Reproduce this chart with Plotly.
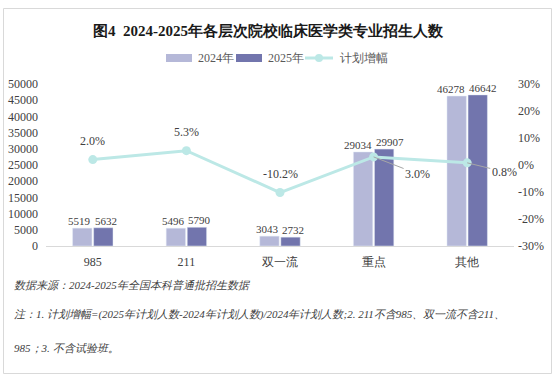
import plotly.graph_objects as go

categories = ["985", "211", "双一流", "重点", "其他"]
plan_2024 = [5519, 5496, 3043, 29034, 46278]
plan_2025 = [5632, 5790, 2732, 29907, 46642]
growth_pct = [2.0, 5.3, -10.2, 3.0, 0.8]
left_ticks = list(range(0, 50001, 5000))
right_ticks = [-30, -20, -10, 0, 10, 20, 30]
right_tick_labels = ["-30%", "-20%", "-10%", "0%", "10%", "20%", "30%"]

W, H = 557, 381
L, R, T, B = 46, 43, 84, 135
PW, PH = W - L - R, H - T - B

def px(x):
    return (x - L) / PW

def py(y):
    return (T + PH - y) / PH

SERIF = "Liberation Serif, Times New Roman, DejaVu Serif, serif"
TXT = "#404040"
C24 = "#b5b8d8"
C25 = "#7275ad"
CLINE = "#bce8e6"

fig = go.Figure()
fig.add_trace(go.Bar(x=categories, y=plan_2024, name="2024年", marker_color=C24))
fig.add_trace(go.Bar(x=categories, y=plan_2025, name="2025年", marker_color=C25))
fig.add_trace(go.Scatter(x=categories, y=growth_pct, name="计划增幅", yaxis="y2",
                         mode="lines+markers",
                         line=dict(color=CLINE, width=3),
                         marker=dict(color=CLINE, size=9), cliponaxis=False))

annotations = []
# bar value labels (category index positions; shifted so neighbours do not collide)
for idx, v in enumerate(plan_2024):
    extra = 5 if v >= 10000 else 2
    annotations.append(dict(x=idx, y=v, xref="x", yref="y", text=str(v), showarrow=False,
                            xanchor="center", yanchor="bottom", xshift=-11 - extra, yshift=-1,
                            font=dict(family=SERIF, size=11, color=TXT)))
for idx, v in enumerate(plan_2025):
    extra = 5 if v >= 10000 else 2
    annotations.append(dict(x=idx, y=v, xref="x", yref="y", text=str(v), showarrow=False,
                            xanchor="center", yanchor="bottom", xshift=11 + extra, yshift=-1,
                            font=dict(family=SERIF, size=11, color=TXT)))

# growth labels
for idx in range(3):
    annotations.append(dict(x=idx, y=growth_pct[idx], xref="x", yref="y2",
                            text=f"{growth_pct[idx]:.1f}%", showarrow=False,
                            xanchor="center", yanchor="middle", yshift=19,
                            font=dict(family=SERIF, size=12, color=TXT)))
for idx, (ax, ay) in zip((3, 4), [(44, 17), (37, 9)]):
    annotations.append(dict(x=idx, y=growth_pct[idx], xref="x", yref="y2",
                            text=f"{growth_pct[idx]:.1f}%", showarrow=True, arrowhead=0,
                            arrowwidth=1, arrowcolor="#a6a6a6", ax=ax, ay=ay,
                            xanchor="center", yanchor="middle",
                            font=dict(family=SERIF, size=12, color=TXT)))

annotations.append(dict(x=px(268), y=py(30), xref="paper", yref="paper",
                        text="<b>图4  2024-2025年各层次院校临床医学类专业招生人数</b>",
                        showarrow=False, xanchor="center", yanchor="middle",
                        font=dict(family=SERIF, size=15, color="#1a1a1a")))

shapes = []
shapes.append(dict(type="rect", xref="paper", yref="paper", x0=px(166), x1=px(192),
                   y0=py(62), y1=py(54), fillcolor=C24, line=dict(width=0)))
shapes.append(dict(type="rect", xref="paper", yref="paper", x0=px(236), x1=px(262),
                   y0=py(62), y1=py(54), fillcolor=C25, line=dict(width=0)))
shapes.append(dict(type="line", xref="paper", yref="paper", x0=px(305), x1=px(333),
                   y0=py(58), y1=py(58), line=dict(color=CLINE, width=3)))
shapes.append(dict(type="circle", xref="paper", yref="paper", x0=px(315), x1=px(323),
                   y0=py(62), y1=py(54), fillcolor=CLINE, line=dict(width=0)))
for xx, t in [(196, "2024年"), (266, "2025年"), (338, "计划增幅")]:
    annotations.append(dict(x=px(xx), y=py(58), xref="paper", yref="paper", text=t,
                            showarrow=False, xanchor="left", yanchor="middle",
                            font=dict(family=SERIF, size=12, color="#595959")))

shapes.append(dict(type="rect", xref="paper", yref="paper", x0=px(3.5), x1=px(551.5),
                   y0=py(373.5), y1=py(8.5), line=dict(color="#d9d9d9", width=1),
                   fillcolor="rgba(0,0,0,0)", layer="below"))

notes = [
    (285, "数据来源：2024-2025年全国本科普通批招生数据"),
    (314, "注：1. 计划增幅=(2025年计划人数-2024年计划人数)/2024年计划人数;2. 211不含985、双一流不含211、"),
    (348, "985；3. 不含试验班。"),
]
for yy, t in notes:
    annotations.append(dict(x=px(12), y=py(yy), xref="paper", yref="paper", text=t,
                            showarrow=False, xanchor="left", yanchor="middle",
                            font=dict(family=SERIF, size=11, color=TXT, style="italic")))

fig.update_layout(
    width=W, height=H, margin=dict(l=L, r=R, t=T, b=B, autoexpand=False),
    paper_bgcolor="white", plot_bgcolor="white", showlegend=False,
    barmode="group", bargap=0.55, bargroupgap=0.08,
    font=dict(family=SERIF, size=12, color=TXT),
    xaxis=dict(type="category", categoryorder="array", categoryarray=categories,
               range=[-0.5, len(categories) - 0.5],
               showline=True, linecolor="#d9d9d9", linewidth=1, ticks="",
               ticklabelstandoff=5,
               tickfont=dict(family=SERIF, size=12, color=TXT), showgrid=False),
    yaxis=dict(range=[0, 50000], tickvals=left_ticks, ticktext=[str(v) for v in left_ticks],
               showgrid=False, zeroline=False, showline=False, ticklabelstandoff=7,
               tickfont=dict(family=SERIF, size=12, color=TXT)),
    yaxis2=dict(range=[-30, 30], tickvals=right_ticks, ticktext=right_tick_labels,
                overlaying="y", side="right", showgrid=False, zeroline=False, showline=False,
                ticklabelstandoff=3,
                tickfont=dict(family=SERIF, size=12, color=TXT)),
    annotations=annotations, shapes=shapes,
)

fig.write_html("out.html", config={"displayModeBar": False},
               post_script="document.body.style.margin='0';document.body.style.overflow='hidden';")
